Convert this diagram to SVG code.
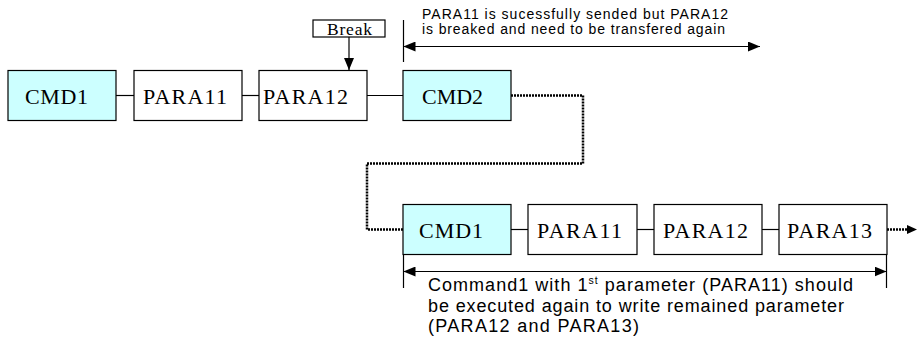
<svg xmlns="http://www.w3.org/2000/svg" width="919" height="341" viewBox="0 0 919 341">
  <style>
    .box { fill: #ffffff; stroke: #000000; stroke-width: 1.2; }
    .cmd { fill: #ccffff; stroke: #000000; stroke-width: 1.2; }
    .lbl { font-family: "Liberation Serif", "Times New Roman", serif; font-size: 22px; fill: #000000; }
    .brk { font-family: "Liberation Serif", "Times New Roman", serif; font-size: 17.5px; fill: #000000; }
    .note { font-family: "Liberation Sans", Arial, sans-serif; fill: #000000; }
    .link { stroke: #000000; stroke-width: 1.2; fill: none; }
    .dot { stroke: #000000; stroke-width: 2.5; stroke-dasharray: 2 1; fill: none; }
    .dim { stroke: #000000; stroke-width: 1.2; fill: none; }
  </style>
  <defs>
    <marker id="head" viewBox="0 0 12 10" refX="12" refY="5" markerWidth="12" markerHeight="10" markerUnits="userSpaceOnUse" orient="auto-start-reverse">
      <path d="M0,0 L12,5 L0,10 Z" fill="#000000"/>
    </marker>
  </defs>

  <!-- connectors -->
  <g id="connectors">
    <!-- first sequence links -->
    <line class="link" x1="116" y1="95.5" x2="134" y2="95.5"/>
    <line class="link" x1="242" y1="95.5" x2="259" y2="95.5"/>
    <line class="link" x1="367" y1="95.5" x2="403" y2="95.5"/>
    <!-- second sequence links -->
    <line class="link" x1="511" y1="229.5" x2="528" y2="229.5"/>
    <line class="link" x1="637" y1="229.5" x2="654" y2="229.5"/>
    <line class="link" x1="762" y1="229.5" x2="779" y2="229.5"/>
    <!-- retransmission path -->
    <path class="dot" d="M511,95.5 H583 V163.5 H367 V229.5 H403"/>
    <line class="dot" x1="887" y1="229.5" x2="908" y2="229.5"/>
    <path d="M907,225 L917,229.5 L907,234 Z" fill="#000000"/>
    <!-- break marker -->
    <line class="link" x1="349" y1="37" x2="349" y2="70" marker-end="url(#head)"/>
    <line class="dot" x1="349" y1="70" x2="349" y2="121"/>
    <!-- dimension: resend span -->
    <line class="dim" x1="403.5" y1="20" x2="403.5" y2="62"/>
    <line class="dim" x1="403.5" y1="46.5" x2="760" y2="46.5" marker-start="url(#head)" marker-end="url(#head)"/>
    <!-- dimension: re-executed command -->
    <line class="dim" x1="403.5" y1="255" x2="403.5" y2="288"/>
    <line class="dim" x1="886.5" y1="255" x2="886.5" y2="288"/>
    <line class="dim" x1="403.5" y1="271.5" x2="886.5" y2="271.5" marker-start="url(#head)" marker-end="url(#head)"/>
  </g>

  <!-- first sequence -->
  <g id="cmd1-a">
    <rect class="cmd" x="8" y="70.5" width="108" height="50"/>
    <text class="lbl" x="25" y="103.5" textLength="63">CMD1</text>
  </g>
  <g id="para11-a">
    <rect class="box" x="134" y="70.5" width="108" height="50"/>
    <text class="lbl" x="143" y="103.5" textLength="84">PARA11</text>
  </g>
  <g id="para12-a">
    <rect class="box" x="259" y="70.5" width="108" height="50"/>
    <text class="lbl" x="263" y="103.5" textLength="85">PARA12</text>
  </g>
  <g id="cmd2">
    <rect class="cmd" x="403" y="70.5" width="108" height="50"/>
    <text class="lbl" x="422" y="103.5" textLength="61">CMD2</text>
  </g>

  <!-- break label -->
  <g id="break">
    <rect class="box" x="313" y="20" width="72" height="17"/>
    <text class="brk" x="327" y="35" textLength="45">Break</text>
  </g>

  <!-- second sequence -->
  <g id="cmd1-b">
    <rect class="cmd" x="403" y="204.5" width="108" height="50"/>
    <text class="lbl" x="419" y="237.5" textLength="64">CMD1</text>
  </g>
  <g id="para11-b">
    <rect class="box" x="528" y="204.5" width="109" height="50"/>
    <text class="lbl" x="537" y="237.5" textLength="85">PARA11</text>
  </g>
  <g id="para12-b">
    <rect class="box" x="654" y="204.5" width="108" height="50"/>
    <text class="lbl" x="663" y="237.5" textLength="85">PARA12</text>
  </g>
  <g id="para13-b">
    <rect class="box" x="779" y="204.5" width="108" height="50"/>
    <text class="lbl" x="787" y="237.5" textLength="85">PARA13</text>
  </g>

  <!-- notes -->
  <g id="note-resend">
    <text class="note" font-size="14" x="422" y="18.5" textLength="306">PARA11 is sucessfully sended but PARA12</text>
    <text class="note" font-size="14" x="422" y="34" textLength="303">is breaked and need to be transfered again</text>
  </g>
  <g id="note-reexec">
    <text class="note" font-size="18" x="428" y="291" textLength="425">Command1 with 1<tspan font-size="10.5" dy="-7">st</tspan><tspan dy="7"> parameter (PARA11) should</tspan></text>
    <text class="note" font-size="18" x="428" y="311.5" textLength="416">be executed again to write remained parameter</text>
    <text class="note" font-size="18" x="428" y="331.5" textLength="211">(PARA12 and PARA13)</text>
  </g>
</svg>
